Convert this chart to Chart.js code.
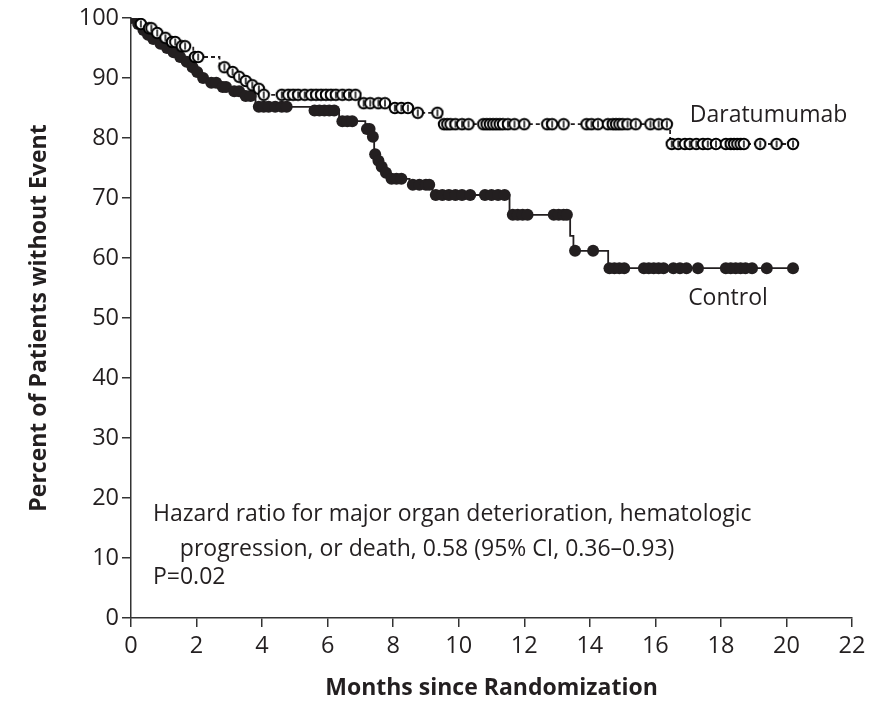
<!DOCTYPE html>
<html lang="en">
<head>
<meta charset="UTF-8">
<title>Kaplan-Meier</title>
<script src="https://cdn.jsdelivr.net/npm/chart.js"></script>
<style>
  body { margin: 0; background: #ffffff; }
  #wrap { width: 887px; height: 702px; }
</style>
</head>
<body>
<div id="wrap"><canvas id="km" width="887" height="702"></canvas></div>
<script>
// daratumumab arm: step curve (month of event, percent after event)
const daraMonths = [0, 0.2, 0.45, 0.7, 0.95, 1.15, 1.5, 1.9, 2.7, 3.0, 3.2, 3.4, 3.6, 3.85, 3.95, 7.0, 7.9, 8.6, 9.45, 16.45, 20.2];
const daraPct    = [100, 99, 98.3, 97.5, 96.7, 96, 95.3, 93.5, 91.8, 91, 90.2, 89.5, 88.8, 88.2, 87.2, 85.8, 85.0, 84.2, 82.3, 79.0, 79.0];
// daratumumab censored patients
const daraCensMonths = [0.3, 0.55, 0.62, 0.8, 1.05, 1.25, 1.35, 1.55, 1.65, 1.95, 2.05, 2.85, 3.1, 3.3, 3.5, 3.7, 3.9,
  4.05, 4.6, 4.8, 4.95, 5.1, 5.3, 5.5, 5.65, 5.8, 5.95, 6.1, 6.25, 6.45, 6.65, 6.85,
  7.1, 7.3, 7.55, 7.75, 8.05, 8.25, 8.45, 8.75, 9.35,
  9.55, 9.65, 9.75, 9.9, 10.1, 10.3, 10.75, 10.85, 10.95, 11.05, 11.15, 11.25, 11.35, 11.5, 11.7, 12.0,
  12.7, 12.85, 13.2, 13.9, 14.05, 14.25, 14.55, 14.7, 14.8, 14.9, 15.0, 15.15, 15.4, 15.85, 16.1, 16.35,
  16.5, 16.7, 16.9, 17.05, 17.25, 17.45, 17.6, 17.85, 18.15, 18.3, 18.4, 18.5, 18.6, 18.7, 19.2, 19.7, 20.2];
const daraCensPct = [99, 98.3, 98.3, 97.5, 96.7, 96, 96, 95.3, 95.3, 93.5, 93.5, 91.8, 91, 90.2, 89.5, 88.8, 88.2,
  87.2, 87.2, 87.2, 87.2, 87.2, 87.2, 87.2, 87.2, 87.2, 87.2, 87.2, 87.2, 87.2, 87.2, 87.2,
  85.8, 85.8, 85.8, 85.8, 85.0, 85.0, 85.0, 84.2, 84.2,
  82.3, 82.3, 82.3, 82.3, 82.3, 82.3, 82.3, 82.3, 82.3, 82.3, 82.3, 82.3, 82.3, 82.3, 82.3, 82.3,
  82.3, 82.3, 82.3, 82.3, 82.3, 82.3, 82.3, 82.3, 82.3, 82.3, 82.3, 82.3, 82.3, 82.3, 82.3, 82.3,
  79, 79, 79, 79, 79, 79, 79, 79, 79, 79, 79, 79, 79, 79, 79, 79, 79];

// control arm
const ctrlMonths = [0, 0.15, 0.3, 0.45, 0.6, 0.8, 1.0, 1.2, 1.4, 1.6, 1.8, 1.95, 2.1, 2.3, 2.7, 3.0, 3.4, 3.8, 5.5, 6.35, 7.15, 7.35, 7.42, 7.5, 7.6, 7.72, 7.85, 8.5, 9.2, 11.55, 13.4, 13.5, 14.56, 20.2];
const ctrlPct    = [100, 99, 98, 97.2, 96.5, 95.7, 95, 94.3, 93.5, 92.7, 91.8, 91, 90, 89.2, 88.5, 87.8, 87, 85.2, 84.6, 82.8, 81.5, 80.2, 77.3, 76.2, 75.2, 74.2, 73.2, 72.2, 70.5, 67.2, 63.7, 61.2, 58.3, 58.3];
const ctrlCensMonths = [0, 0.22, 0.38, 0.52, 0.68, 0.9, 1.1, 1.3, 1.5, 1.7, 1.88, 2.02, 2.2, 2.45, 2.6, 2.8, 2.9, 3.15, 3.3, 3.5, 3.65,
  3.9, 4.05, 4.2, 4.4, 4.6, 4.75, 5.6, 5.75, 5.9, 6.05, 6.2, 6.45, 6.6, 6.75, 7.2, 7.28, 7.38, 7.45, 7.55, 7.65, 7.78,
  7.95, 8.1, 8.25, 8.6, 8.8, 9.0, 9.1, 9.3, 9.5, 9.7, 9.9, 10.1, 10.35, 10.8, 11.0, 11.2, 11.4,
  11.65, 11.8, 11.95, 12.1, 12.9, 13.05, 13.2, 13.3, 13.55, 14.1,
  14.6, 14.75, 14.9, 15.05, 15.65, 15.8, 15.95, 16.1, 16.25, 16.55, 16.75, 16.95, 17.3, 18.15, 18.3, 18.45, 18.6, 18.75, 18.95, 19.4, 20.2];
const ctrlCensPct = [100, 99, 98, 97.2, 96.5, 95.7, 95, 94.3, 93.5, 92.7, 91.8, 91, 90, 89.2, 89.2, 88.5, 88.5, 87.8, 87.8, 87, 87,
  85.2, 85.2, 85.2, 85.2, 85.2, 85.2, 84.6, 84.6, 84.6, 84.6, 84.6, 82.8, 82.8, 82.8, 81.5, 81.5, 80.2, 77.3, 76.2, 75.2, 74.2,
  73.2, 73.2, 73.2, 72.2, 72.2, 72.2, 72.2, 70.5, 70.5, 70.5, 70.5, 70.5, 70.5, 70.5, 70.5, 70.5, 70.5,
  67.2, 67.2, 67.2, 67.2, 67.2, 67.2, 67.2, 67.2, 61.2, 61.2,
  58.3, 58.3, 58.3, 58.3, 58.3, 58.3, 58.3, 58.3, 58.3, 58.3, 58.3, 58.3, 58.3, 58.3, 58.3, 58.3, 58.3, 58.3, 58.3, 58.3, 58.3];

const xTicks = [0, 2, 4, 6, 8, 10, 12, 14, 16, 18, 20, 22];
const yTicks = [0, 10, 20, 30, 40, 50, 60, 70, 80, 90, 100];

const ink = '#231f20';
const fontFam = '"Open Sans", "DejaVu Sans", sans-serif';

function pairs(xs, ys) {
  return xs.map((x, i) => ({ x: x, y: ys[i] }));
}

// open circle with censor tick
function openMark() {
  const c = document.createElement('canvas');
  c.width = 14; c.height = 14;
  const g = c.getContext('2d');
  g.beginPath();
  g.arc(7, 7, 5.2, 0, Math.PI * 2);
  g.fillStyle = '#fff';
  g.fill();
  g.lineWidth = 2;
  g.strokeStyle = '#000';
  g.stroke();
  g.beginPath();
  g.moveTo(7, 3.5);
  g.lineTo(7, 10.5);
  g.lineWidth = 1.5;
  g.stroke();
  return c;
}

const labelsPlugin = {
  id: 'kmLabels',
  afterDraw(chart) {
    const { ctx, scales: { x, y } } = chart;
    ctx.save();
    ctx.fillStyle = ink;
    ctx.textBaseline = 'middle';
    ctx.textAlign = 'left';
    ctx.font = '23px ' + fontFam;
    ctx.fillText('Daratumumab', x.getPixelForValue(17.05), y.getPixelForValue(83.7));
    ctx.fillText('Control', x.getPixelForValue(17.0), y.getPixelForValue(53.2));
    ctx.fillText('Hazard ratio for major organ deterioration, hematologic', x.getPixelForValue(0.67), y.getPixelForValue(17.3));
    ctx.fillText('progression, or death, 0.58 (95% CI, 0.36\u20130.93)', x.getPixelForValue(1.49), y.getPixelForValue(11.5));
    ctx.fillText('P=0.02', x.getPixelForValue(0.67), y.getPixelForValue(6.8));
    ctx.restore();
  }
};

new Chart(document.getElementById('km'), {
  type: 'scatter',
  data: {
    datasets: [
      {
        label: 'Daratumumab censored',
        data: pairs(daraCensMonths, daraCensPct),
        showLine: false,
        pointStyle: openMark(),
        pointRadius: 6
      },
      {
        label: 'Daratumumab',
        data: pairs(daraMonths, daraPct),
        showLine: true,
        stepped: 'before',
        borderColor: ink,
        borderWidth: 1.8,
        borderDash: [4, 3],
        pointRadius: 0
      },
      {
        label: 'Control censored',
        data: pairs(ctrlCensMonths, ctrlCensPct),
        showLine: false,
        pointStyle: 'circle',
        pointRadius: 6,
        backgroundColor: ink,
        borderColor: ink,
        borderWidth: 0
      },
      {
        label: 'Control',
        data: pairs(ctrlMonths, ctrlPct),
        showLine: true,
        stepped: 'before',
        borderColor: ink,
        borderWidth: 1.8,
        pointRadius: 0
      }
    ]
  },
  options: {
    responsive: false,
    animation: false,
    devicePixelRatio: 1,
    layout: { padding: { top: 18, right: 35, left: 0, bottom: 0 } },
    plugins: { legend: { display: false }, tooltip: { enabled: false } },
    scales: {
      x: {
        type: 'linear',
        min: 0,
        max: 22,
        afterBuildTicks: s => { s.ticks = xTicks.map(v => ({ value: v })); },
        afterFit: s => { s.height = 84; },
        ticks: { color: ink, font: { family: fontFam, size: 23.5 }, padding: 5 },
        grid: { drawOnChartArea: false, tickLength: 9, color: '#333', lineWidth: 1.5 },
        border: { color: '#333', width: 1.5 },
        title: {
          display: true,
          text: 'Months since Randomization',
          color: ink,
          font: { family: fontFam, size: 23, weight: 'bold' },
          padding: { top: 0, bottom: 0 }
        }
      },
      y: {
        min: 0,
        max: 100,
        afterBuildTicks: s => { s.ticks = yTicks.map(v => ({ value: v })); },
        afterFit: s => { s.width = 131; },
        ticks: { color: ink, font: { family: fontFam, size: 23.5 }, padding: 3 },
        grid: { drawOnChartArea: false, tickLength: 9, color: '#333', lineWidth: 1.5 },
        border: { color: '#333', width: 1.5 },
        title: {
          display: true,
          text: 'Percent of Patients without Event',
          color: ink,
          font: { family: fontFam, size: 23, weight: 'bold' },
          padding: { top: 26, bottom: 0 }
        }
      }
    }
  },
  plugins: [labelsPlugin]
});
</script>
</body>
</html>
